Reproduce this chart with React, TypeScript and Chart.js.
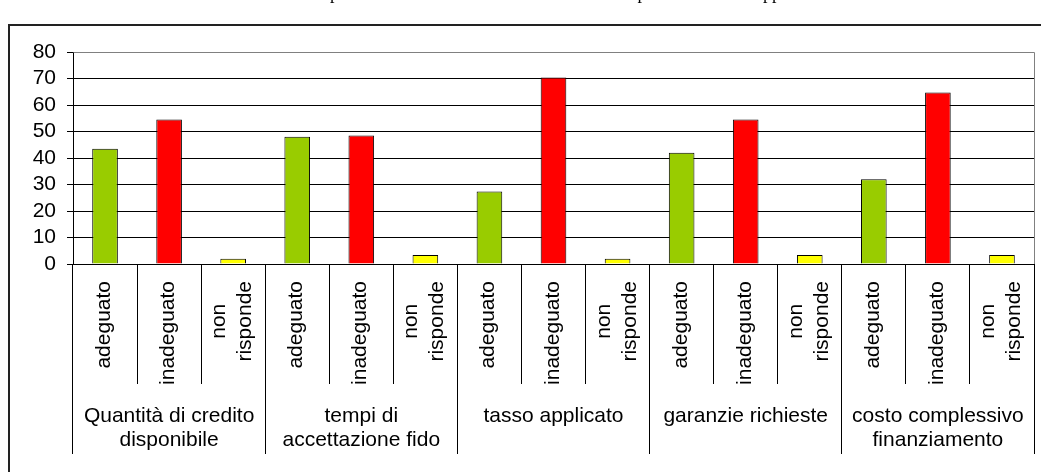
import React, { useEffect, useRef } from "react";
import { Chart, registerables } from "chart.js";

Chart.register(...registerables);

// Aspects of bank credit judged by the surveyed firms (two-line labels where wrapped)
const groups: string[][] = [
  ["Quantità di credito", "disponibile"],
  ["tempi di", "accettazione fido"],
  ["tasso applicato"],
  ["garanzie richieste"],
  ["costo complessivo", "finanziamento"],
];

// Answer options, repeated inside every group
const answers: string[][] = [["adeguato"], ["inadeguato"], ["non", "risponde"]];
const answerColors = ["#99CC00", "#FF0000", "#FFFF00"];

// Percentages per answer, one value per group
const adeguato = [43.5, 48.0, 27.4, 42.0, 32.0];
const inadeguato = [54.5, 48.5, 70.4, 54.5, 64.7];
const nonRisponde = [2.0, 3.4, 2.0, 3.4, 3.4];

const yTicks = [0, 10, 20, 30, 40, 50, 60, 70, 80];

const title =
  "Valutazione delle imprese sulle condizioni del credito e sui tempi e sulle tariffe applicate";

const FONT = '"Liberation Sans", Arial, sans-serif';

const series = [adeguato, inadeguato, nonRisponde];
const barLabels: string[][] = [];
const barValues: number[] = [];
const barColors: string[] = [];
groups.forEach((_, g) => {
  answers.forEach((a, k) => {
    barLabels.push(a);
    barValues.push(series[k][g]);
    barColors.push(answerColors[k]);
  });
});

const align = (v: number) => Math.round(v - 0.5) + 0.5;

const axisDecor = {
  id: "axisDecor",
  afterDraw(chart: any) {
    const { ctx, chartArea: area } = chart;
    const x = chart.scales.x;
    const slot = x.getPixelForValue(1) - x.getPixelForValue(0);
    ctx.save();

    // plot-area frame (top and right edges)
    ctx.strokeStyle = "#808080";
    ctx.lineWidth = 1;
    ctx.beginPath();
    ctx.moveTo(align(area.left), align(area.top));
    ctx.lineTo(align(area.right), align(area.top));
    ctx.lineTo(align(area.right), align(area.bottom));
    ctx.stroke();

    // long separators between groups
    ctx.strokeStyle = "#000";
    ctx.beginPath();
    for (let g = 0; g <= groups.length; g++) {
      const px = align(x.getPixelForValue(g * answers.length) - slot / 2);
      ctx.moveTo(px, area.bottom);
      ctx.lineTo(px, area.bottom + 190);
    }
    ctx.stroke();

    ctx.fillStyle = "#000";
    ctx.font = `21px ${FONT}`;

    // rotated answer labels under each bar
    const lh = 26;
    barLabels.forEach((lines, i) => {
      const cx = x.getPixelForValue(i);
      const maxW = Math.max(...lines.map((l) => ctx.measureText(l).width));
      ctx.save();
      ctx.translate(cx, area.bottom + 17);
      ctx.rotate(-Math.PI / 2);
      ctx.textAlign = "center";
      ctx.textBaseline = "alphabetic";
      lines.forEach((line, j) => {
        const off = 5 - (lh / 2) * (lines.length - 1) + j * lh;
        ctx.fillText(line, -maxW / 2, off);
      });
      ctx.restore();
    });

    // group labels
    ctx.textAlign = "center";
    ctx.textBaseline = "alphabetic";
    groups.forEach((lines, g) => {
      const first = x.getPixelForValue(g * answers.length);
      const last = x.getPixelForValue(g * answers.length + answers.length - 1);
      const cx = (first + last) / 2;
      lines.forEach((line, j) => {
        ctx.fillText(line, cx, area.bottom + 158 + j * 24);
      });
    });

    // heading above the frame
    ctx.font = '18px "Liberation Serif", "Times New Roman", serif';
    ctx.textAlign = "left";
    const pre = "Valutazione delle im";
    ctx.fillText(title, 330 - ctx.measureText(pre).width, -1);

    ctx.restore();
  },
};

export default function App() {
  const ref = useRef<HTMLCanvasElement | null>(null);

  useEffect(() => {
    if (!ref.current) return;
    const chart = new Chart(ref.current, {
      type: "bar",
      data: {
        labels: barLabels.map((l) => l.join(" ")),
        datasets: [
          {
            data: barValues,
            backgroundColor: barColors,
            borderColor: "#000",
            borderWidth: 1,
            barPercentage: 0.4,
            categoryPercentage: 1,
          },
        ],
      },
      options: {
        animation: false,
        responsive: false,
        maintainAspectRatio: false,
        layout: { padding: { top: 52, right: 7, left: 0, bottom: 0 } },
        plugins: {
          legend: { display: false },
          title: { display: false },
          tooltip: { enabled: false },
        },
        scales: {
          x: {
            type: "category",
            offset: true,
            grid: {
              offset: true,
              drawOnChartArea: false,
              drawTicks: true,
              tickLength: 120,
              color: "#000",
              lineWidth: 1,
            },
            border: { color: "#000", width: 1 },
            ticks: { display: false },
            afterFit: (scale: any) => {
              scale.height = 208;
            },
          },
          y: {
            min: 0,
            max: 80,
            afterBuildTicks: (scale: any) => {
              scale.ticks = yTicks.map((v) => ({ value: v }));
            },
            grid: {
              color: (c: any) => (c.tick && c.tick.value === 80 ? "#808080" : "#000"),
              tickColor: "#000",
              tickLength: 6,
              lineWidth: 1,
            },
            border: { color: "#000", width: 1 },
            ticks: {
              color: "#000",
              font: { family: FONT, size: 21 },
              padding: 11,
              autoSkip: false,
            },
            afterFit: (scale: any) => {
              scale.width = 73;
            },
          },
        },
      },
      plugins: [axisDecor],
    });
    return () => chart.destroy();
  }, []);

  return (
    <div
      style={{
        position: "fixed",
        left: 0,
        top: 0,
        width: 1041,
        height: 472,
        overflow: "hidden",
        background: "#fff",
      }}
    >
      <div
        style={{
          position: "absolute",
          left: 8,
          top: 24,
          width: 1200,
          height: 600,
          borderLeft: "2px solid #222",
          borderTop: "2px solid #222",
          boxSizing: "border-box",
        }}
      />
      <canvas
        ref={ref}
        width={1041}
        height={472}
        style={{ position: "absolute", left: 0, top: 0, width: 1041, height: 472 }}
      />
    </div>
  );
}
